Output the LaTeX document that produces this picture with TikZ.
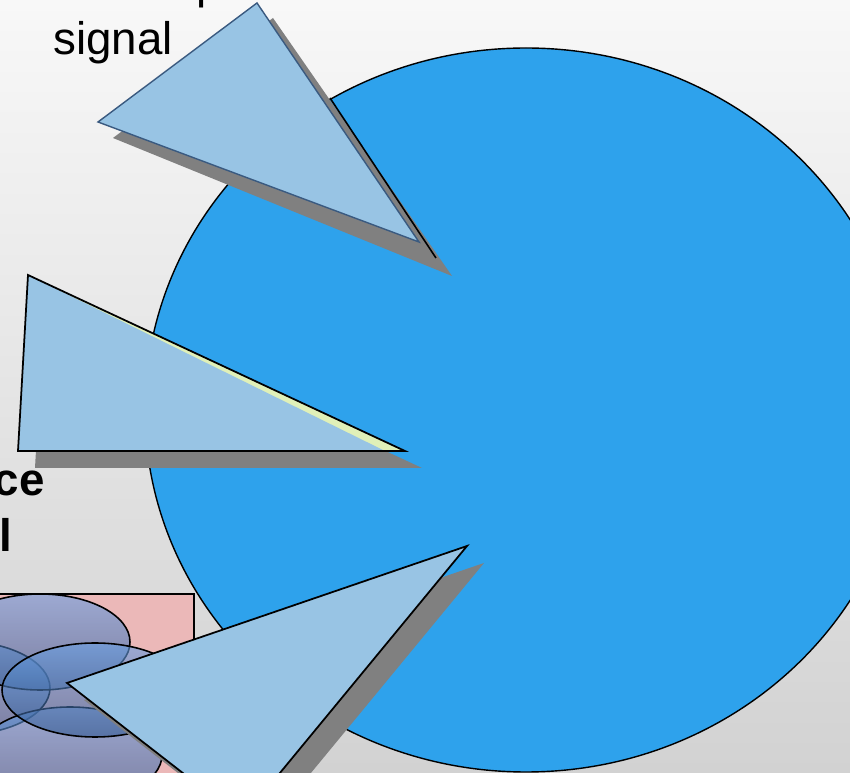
\documentclass[tikz,border=0pt]{standalone}
\usepackage{fontspec}
\setmainfont{Liberation Sans}

\definecolor{bgtop}{RGB}{248,248,248}
\definecolor{bgbottom}{RGB}{210,210,210}
\definecolor{bigblue}{RGB}{46,162,236}
\definecolor{arrowblue}{RGB}{152,196,228}
\definecolor{shadowgray}{RGB}{128,128,128}
\definecolor{slivergreen}{RGB}{224,240,184}
\definecolor{rosebox}{RGB}{235,184,184}
\definecolor{edgeblue}{RGB}{58,90,128}
\definecolor{petaltop}{RGB}{105,160,228}
\definecolor{petalbottom}{RGB}{50,88,145}

\begin{document}
\begin{tikzpicture}[x=0.02cm,y=-0.02cm,
	wedge/.style={fill=arrowblue,draw=black,line width=1pt},
	wedgeshadow/.style={fill=shadowgray},
	petal/.style={draw=black,line width=0.9pt,top color=petaltop,bottom color=petalbottom,fill opacity=0.6},
	txt/.style={inner sep=0pt,font=\fontsize{26}{30}\selectfont}]
	\useasboundingbox (0,0) rectangle (850,773);
	\clip (0,0) rectangle (850,773);
	\shade[top color=bgtop,bottom color=bgbottom] (0,0) rectangle (850,773);

	% box with the four petals
	\draw[fill=rosebox,line width=1pt] (-20,594) rectangle (194,800);
	\path[petal] (-40,688) ellipse [x radius=90,y radius=47];
	\path[petal] (40,642) ellipse [x radius=90,y radius=48];
	\path[petal] (70,755) ellipse [x radius=92,y radius=48];
	\path[petal] (95,690) ellipse [x radius=93,y radius=47];

	% big disc
	\draw[fill=bigblue,line width=0.8pt] (526,410) ellipse [x radius=381,y radius=362];

	% upper wedge
	\fill[wedgeshadow] (273,18) -- (113,138) -- (452,276) -- cycle;
	\draw[line width=0.9pt] (330,98) -- (436,258);
	\draw[fill=arrowblue,draw=edgeblue,line width=0.8pt] (257,3) -- (98,122) -- (419,242) -- cycle;

	% middle wedge
	\fill[wedgeshadow] (45,292) -- (35,468) -- (422,468) -- cycle;
	\fill[slivergreen] (28,275) -- (18,451) -- (405,451) -- cycle;
	\fill[arrowblue] (28,275) -- (18,451) -- (385,451) -- cycle;
	\draw[line width=1pt] (28,275) -- (18,451) -- (405,451) -- cycle;

	% lower wedge
	\fill[wedgeshadow] (84,700) -- (484,563) -- (259,836) -- cycle;
	\draw[wedge] (67,683) -- (467,546) -- (242,819) -- cycle;

	% texts
	\node[txt,anchor=base west] (sigtext) at (53,55) {signal};
	\node[txt,anchor=base west] (ptext) at (196,-1.5) {p};
	\node[txt,font=\fontsize{26}{30}\selectfont\bfseries,anchor=base east] (cetext) at (45,496) {ce};
	\node[txt,font=\fontsize{26}{30}\selectfont\bfseries,anchor=base east] (ltext) at (13,552) {l};
\end{tikzpicture}
\end{document}
